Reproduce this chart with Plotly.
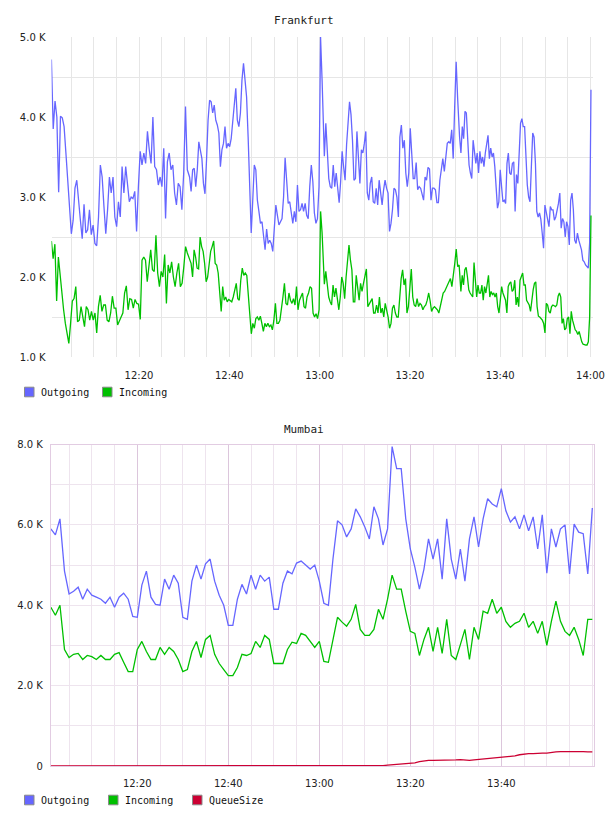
import numpy as np
import pandas as pd
import plotly.graph_objects as go

BASE = pd.Timestamp("2024-01-01 12:00:00")

# ---------------- Frankfurt (values in K, ~30 s samples) ----------------
FRA_SEGMENTS = [(0.6, 30.7), (31.2, 60.55), (61.05, 90.9), (91.0, 120.1)]  # minutes after 12:00

FRA_OUT_1 = [4.72, 3.85, 4.20, 4.00, 3.06, 4.01, 3.99, 3.88, 3.55, 3.21, 2.88, 2.54, 2.71, 3.11, 3.21, 3.00, 2.71,
             2.48, 2.91, 2.55, 2.59, 2.84, 2.53, 2.65, 2.42, 2.39, 2.75, 3.40, 3.25, 2.88, 2.54, 2.84, 3.25, 3.05,
             3.25, 2.75, 2.63, 2.94, 2.75, 3.38, 3.05, 3.38, 3.19, 2.94, 3.00, 2.98, 3.07, 2.57, 3.13, 3.57, 3.40,
             3.55, 3.42, 3.82, 3.59, 3.42, 4.00, 3.38, 3.34, 3.15, 3.25, 3.13, 3.61, 2.73, 3.44, 3.55, 3.34, 3.40,
             3.05, 2.90, 3.17, 3.13, 2.84, 3.30, 4.13, 3.34]
FRA_OUT_2 = [3.25, 3.07, 3.34, 3.36, 3.13, 3.34, 3.69, 3.57, 3.48, 3.17, 3.04, 3.46, 3.96, 4.21, 4.19, 4.05, 4.15,
             3.96, 3.90, 3.80, 3.38, 3.59, 3.67, 3.88, 3.61, 3.67, 3.63, 3.73, 3.98, 4.19, 4.36, 3.96, 3.88, 4.05,
             4.46, 4.67, 4.48, 4.25, 3.75, 3.21, 2.55, 2.96, 3.40, 3.34, 2.96, 2.82, 2.67, 2.69, 2.50, 2.34, 2.60,
             2.42, 2.46, 2.42, 2.32, 2.59, 2.90, 2.77, 2.65, 2.69, 2.73, 3.00, 3.49, 3.21, 2.92, 2.94, 2.82, 2.67,
             2.82, 2.69, 3.15, 2.82, 2.84, 2.92, 2.82, 2.92, 2.77, 2.73, 3.13, 3.40, 3.19, 2.80, 2.67, 2.73, 3.13,
             5.00, 4.46]
FRA_OUT_3 = [3.51, 3.92, 3.50, 3.23, 3.13, 3.11, 3.40, 3.13, 3.30, 3.13, 2.93, 3.19, 3.57, 3.38, 3.21, 3.65, 3.98,
             4.19, 4.03, 3.71, 3.21, 3.23, 3.82, 3.55, 3.17, 3.59, 3.55, 3.67, 3.82, 3.05, 2.96, 3.17, 3.25, 2.94,
             2.92, 3.11, 2.90, 3.21, 3.05, 2.90, 3.09, 3.21, 3.11, 3.05, 2.57, 2.67, 2.84, 3.11, 3.09, 3.00, 2.75,
             3.75, 3.90, 3.61, 3.71, 3.30, 3.13, 3.30, 3.86, 3.50, 3.23, 3.23, 3.43, 3.09, 3.13, 3.11, 3.05, 2.96,
             3.25, 3.21, 3.37, 3.35, 2.96, 3.11, 3.11, 3.09, 2.93, 2.93, 3.21, 3.34, 3.48, 3.32, 3.55, 3.67, 3.69,
             3.67, 3.84, 3.48, 4.13, 4.69, 4.23, 3.75]
FRA_OUT_4 = [3.75, 3.55, 3.88, 3.73, 4.07, 4.05, 3.71, 3.40, 3.30, 3.23, 3.71, 3.55, 3.42, 3.55, 3.30, 3.57, 3.42,
             3.50, 3.38, 3.55, 3.65, 3.77, 3.48, 3.61, 3.50, 3.55, 3.38, 3.11, 2.86, 2.94, 3.34, 3.13, 2.94, 2.96,
             2.92, 3.42, 3.55, 3.30, 3.28, 3.42, 3.44, 2.82, 3.28, 3.17, 3.59, 3.92, 3.98, 3.88, 3.88, 3.46, 3.15,
             3.00, 2.94, 3.38, 3.80, 3.75, 3.42, 2.82, 2.75, 2.80, 2.72, 2.55, 2.36, 2.90, 2.82, 2.75, 2.63, 2.88,
             2.84, 2.84, 2.71, 2.75, 2.82, 2.92, 3.05, 2.61, 2.73, 2.69, 2.50, 2.69, 2.63, 2.40, 2.96, 3.05, 2.84,
             2.46, 2.42, 2.55, 2.46, 2.40, 2.34, 2.21, 2.19, 2.15, 2.13, 2.11, 2.42, 4.34]

FRA_IN_1 = [2.45, 2.23, 2.41, 1.70, 2.25, 2.00, 1.80, 1.59, 1.42, 1.30, 1.17, 1.42, 1.70, 1.73, 1.88, 1.44, 1.46,
            1.63, 1.50, 1.38, 1.63, 1.59, 1.46, 1.57, 1.46, 1.55, 1.30, 1.63, 1.77, 1.57, 1.65, 1.65, 1.46, 1.44,
            1.55, 1.76, 1.61, 1.61, 1.40, 1.46, 1.50, 1.55, 1.80, 1.89, 1.59, 1.73, 1.72, 1.61, 1.72, 1.67, 1.66,
            1.47, 2.21, 2.25, 2.21, 1.94, 2.17, 2.34, 2.09, 2.07, 2.52, 2.05, 1.88, 2.07, 2.00, 2.28, 1.67, 2.15,
            2.05, 2.19, 2.00, 1.88, 2.05, 2.17, 1.88, 1.92, 2.13, 2.38, 2.30]
FRA_IN_2 = [2.21, 2.17, 2.00, 2.34, 2.25, 2.11, 2.10, 2.50, 2.38, 2.32, 2.17, 1.94, 2.00, 2.21, 2.32, 2.38, 2.45,
            2.17, 2.15, 2.05, 1.75, 1.57, 1.88, 1.71, 1.75, 1.69, 1.72, 1.71, 1.69, 1.75, 1.82, 1.92, 1.73, 1.71,
            1.96, 2.11, 2.02, 2.05, 2.02, 1.75, 1.50, 1.29, 1.42, 1.36, 1.48, 1.50, 1.46, 1.51, 1.42, 1.32, 1.42,
            1.38, 1.42, 1.38, 1.40, 1.34, 1.46, 1.67, 1.42, 1.42, 1.46, 1.59, 1.75, 1.92, 1.67, 1.65, 1.80, 1.71,
            1.67, 1.73, 1.65, 1.88, 1.59, 1.71, 1.75, 1.80, 1.63, 1.61, 1.75, 1.80, 1.88, 1.86, 1.55, 1.50, 1.54,
            1.48, 1.59, 2.82, 2.55]
FRA_IN_3 = [1.91, 2.07, 1.92, 1.75, 1.69, 1.65, 1.90, 1.75, 1.86, 1.71, 1.59, 1.75, 2.00, 1.92, 1.73, 2.00, 2.21,
            2.40, 2.21, 2.09, 1.69, 1.69, 2.02, 1.82, 1.71, 1.92, 1.82, 1.92, 2.00, 2.10, 1.63, 1.67, 1.71, 1.73,
            1.55, 1.55, 1.65, 1.55, 1.75, 1.55, 1.61, 1.50, 1.67, 1.59, 1.50, 1.36, 1.42, 1.61, 1.65, 1.55, 1.50,
            1.50, 1.75, 1.98, 2.09, 1.90, 1.98, 1.55, 1.63, 1.82, 2.10, 1.75, 1.65, 1.63, 1.73, 1.63, 1.67, 1.65,
            1.59, 1.63, 1.65, 1.71, 1.80, 1.70, 1.57, 1.61, 1.63, 1.61, 1.59, 1.55, 1.65, 1.75, 1.80, 1.82, 1.86,
            1.90, 1.92, 1.98, 1.88, 2.00, 2.17, 2.35, 2.13, 2.15]
FRA_IN_4 = [2.02, 1.82, 2.02, 1.90, 2.09, 2.12, 2.00, 1.84, 1.80, 1.78, 1.75, 2.18, 2.00, 1.75, 1.90, 1.80, 1.80,
            1.90, 1.71, 1.88, 1.80, 1.92, 2.02, 1.75, 1.82, 1.78, 1.80, 1.75, 1.80, 1.63, 1.55, 1.71, 1.88, 1.80,
            1.75, 1.71, 1.55, 1.88, 1.92, 1.94, 1.82, 1.84, 1.96, 1.65, 1.75, 1.63, 1.96, 2.02, 2.05, 1.90, 1.90,
            1.71, 1.67, 1.65, 1.57, 1.73, 1.84, 1.92, 1.94, 1.63, 1.51, 1.50, 1.48, 1.46, 1.42, 1.30, 1.67, 1.65,
            1.57, 1.55, 1.63, 1.65, 1.64, 1.63, 1.65, 1.76, 1.80, 1.75, 1.42, 1.48, 1.34, 1.36, 1.48, 1.50, 1.29,
            1.57, 1.46, 1.38, 1.34, 1.32, 1.28, 1.32, 1.25, 1.19, 1.16, 1.15, 1.15, 1.15, 1.19, 1.50, 2.77]

# ---------------- Mumbai (values in K, 1-min samples 12:01..14:00) ----------------
MUM_MINUTES = list(range(1, 121))
MUM_OUT = [5.90, 5.75, 6.15, 4.85, 4.28, 4.35, 4.45, 4.15, 4.40, 4.25,
           4.20, 4.15, 4.05, 4.20, 3.95, 4.20, 4.30, 4.15, 3.72, 3.70,
           4.50, 4.85, 4.20, 4.02, 4.00, 4.65, 4.40, 4.75, 4.55, 3.70,
           3.65, 4.60, 5.00, 4.65, 5.03, 5.15, 4.60, 4.25, 4.00, 3.50,
           3.50, 4.15, 4.52, 4.28, 4.75, 4.40, 4.75, 4.60, 4.70, 3.90,
           3.90, 4.55, 4.85, 4.78, 5.05, 5.10, 5.00, 4.90, 5.00, 4.60,
           4.05, 4.00, 5.15, 6.10, 6.00, 5.70, 5.90, 6.40, 6.20, 5.95,
           5.65, 6.45, 6.15, 5.50, 5.90, 7.95, 7.40, 7.40, 6.15, 5.40,
           4.95, 4.40, 4.90, 5.65, 5.15, 5.65, 4.65, 6.15, 5.15, 4.65,
           5.40, 4.60, 5.65, 6.20, 5.45, 6.15, 6.65, 6.52, 6.45, 6.90,
           6.35, 6.07, 6.20, 5.90, 6.25, 5.85, 6.20, 5.40, 6.25, 4.80,
           5.90, 5.45, 5.90, 6.00, 4.78, 6.02, 5.82, 5.78, 4.78, 6.42]
MUM_IN = [3.95, 3.75, 4.00, 2.90, 2.70, 2.78, 2.80, 2.65, 2.75, 2.72,
          2.65, 2.75, 2.65, 2.65, 2.78, 2.82, 2.58, 2.35, 2.35, 2.90,
          3.10, 2.85, 2.65, 2.65, 2.95, 2.78, 2.95, 2.85, 2.65, 2.35,
          2.40, 2.85, 3.10, 2.70, 3.15, 3.25, 2.78, 2.55, 2.40, 2.25,
          2.25, 2.45, 2.78, 2.75, 2.80, 3.10, 2.95, 3.25, 3.15, 2.55,
          2.55, 2.55, 2.90, 3.08, 3.05, 3.30, 3.25, 3.10, 2.95, 3.10,
          2.60, 2.58, 3.15, 3.70, 3.58, 3.48, 3.65, 4.02, 3.40, 3.25,
          3.25, 3.40, 3.90, 3.65, 4.15, 4.75, 4.40, 4.40, 3.85, 3.35,
          3.30, 2.75, 3.15, 3.45, 2.85, 3.45, 2.80, 3.65, 2.75, 2.65,
          3.02, 3.40, 2.65, 3.45, 3.15, 3.85, 3.80, 4.15, 3.80, 3.95,
          3.60, 3.45, 3.55, 3.60, 3.80, 3.45, 3.60, 3.30, 3.60, 3.00,
          3.60, 4.10, 3.60, 3.35, 3.25, 3.45, 3.15, 2.75, 3.65, 3.65]
MUM_QUEUE = [0.0] * 72 + [0.005, 0.01, 0.02, 0.03, 0.03, 0.04, 0.05, 0.06, 0.08, 0.11,
                          0.13, 0.14, 0.14, 0.14, 0.14, 0.15, 0.15, 0.15, 0.16, 0.15,
                          0.14, 0.15, 0.16, 0.18, 0.19, 0.20, 0.21, 0.21, 0.22, 0.23,
                          0.25, 0.28, 0.30, 0.31, 0.31, 0.32, 0.32, 0.32, 0.34, 0.35,
                          0.36, 0.36, 0.37, 0.37, 0.37, 0.36, 0.35, 0.35]

FRA_YTICKS = [1, 2, 3, 4, 5]
MUM_YTICKS = [0, 2, 4, 6, 8]
XTICK_MIN = [20, 40, 60, 80, 100, 120]

FRA_SERIES = ["Outgoing", "Incoming"]
MUM_SERIES = ["Outgoing", "Incoming", "QueueSize"]

C_OUT = "#6666ff"
C_IN = "#00c000"
C_Q = "#cc0033"
COLORS = {"Outgoing": C_OUT, "Incoming": C_IN, "QueueSize": C_Q}


def ts(minutes):
    return list(BASE + pd.to_timedelta(np.asarray(minutes, dtype=float), unit="m"))


def seg_times(segments, parts):
    out = []
    for (a, b), vals in zip(segments, parts):
        out += ts(np.linspace(a, b, len(vals)))
    return out


fra_out_t = seg_times(FRA_SEGMENTS, [FRA_OUT_1, FRA_OUT_2, FRA_OUT_3, FRA_OUT_4])
fra_out_v = FRA_OUT_1 + FRA_OUT_2 + FRA_OUT_3 + FRA_OUT_4
fra_in_t = seg_times(FRA_SEGMENTS, [FRA_IN_1, FRA_IN_2, FRA_IN_3, FRA_IN_4])
fra_in_v = FRA_IN_1 + FRA_IN_2 + FRA_IN_3 + FRA_IN_4
mum_t = ts(MUM_MINUTES)

W, H = 608, 816
fig = go.Figure()
lw = 1.3

fig.add_trace(go.Scatter(x=fra_out_t, y=fra_out_v, mode="lines", name="Outgoing", line=dict(color=C_OUT, width=lw),
                         xaxis="x", yaxis="y", showlegend=False))
fig.add_trace(go.Scatter(x=fra_in_t, y=fra_in_v, mode="lines", name="Incoming", line=dict(color=C_IN, width=lw),
                         xaxis="x", yaxis="y", showlegend=False))
fig.add_trace(go.Scatter(x=mum_t, y=MUM_OUT, mode="lines", name="Outgoing", line=dict(color=C_OUT, width=lw),
                         xaxis="x2", yaxis="y2", showlegend=False))
fig.add_trace(go.Scatter(x=mum_t, y=MUM_IN, mode="lines", name="Incoming", line=dict(color=C_IN, width=lw),
                         xaxis="x2", yaxis="y2", showlegend=False))
fig.add_trace(go.Scatter(x=mum_t, y=MUM_QUEUE, mode="lines", name="QueueSize", line=dict(color=C_Q, width=lw),
                         xaxis="x2", yaxis="y2", showlegend=False))

tickfont = dict(family="DejaVu Sans", size=10, color="#222")
grid_f = "#e6e6e6"
grid_m = "#eee4ee"
grid_m_major = "#dcc6dc"
border_m = "#e2cce2"
legfont = dict(family="DejaVu Sans Mono", size=10, color="#111")


def xr(a, b):
    return [BASE + pd.Timedelta(minutes=a), BASE + pd.Timedelta(minutes=b)]


# Compact legend rows (swatch + label), laid out like the original
shapes, annotations = [], []
legend_rows = [(FRA_SERIES, 392, 78), (MUM_SERIES, 800, 84)]
for names, yc, step in legend_rows:
    for i, nm in enumerate(names):
        x0 = 24.5 + i * step
        shapes.append(dict(type="rect", xref="paper", yref="paper",
                           x0=x0 / W, x1=(x0 + 9.5) / W, y0=1 - (yc + 4.8) / H, y1=1 - (yc - 4.8) / H,
                           fillcolor=COLORS[nm], line=dict(color="#8a8a8a", width=1)))
        annotations.append(dict(text=nm, x=(x0 + 14.5) / W, y=1 - yc / H, xref="paper", yref="paper",
                                showarrow=False, xanchor="left", yanchor="middle", font=legfont))

annotations += [
    dict(text="Frankfurt", x=0.5, y=1 - 20 / H, xref="paper", yref="paper", showarrow=False,
         font=dict(family="DejaVu Sans Mono", size=11, color="#222"), xanchor="center", yanchor="middle"),
    dict(text="Mumbai", x=0.5, y=1 - 429 / H, xref="paper", yref="paper", showarrow=False,
         font=dict(family="DejaVu Sans Mono", size=11, color="#222"), xanchor="center", yanchor="middle"),
]

fig.update_layout(
    width=W, height=H, template="none", showlegend=False,
    margin=dict(l=0, r=0, t=0, b=0, autoexpand=False),
    paper_bgcolor="white", plot_bgcolor="white",
    xaxis=dict(domain=[51.5 / W, 593 / W], anchor="y", type="date", range=xr(0.62, 120.55),
               tickvals=ts(XTICK_MIN), tickformat="%H:%M", tickfont=tickfont,
               showgrid=True, gridcolor=grid_f, gridwidth=1, ticks="", showline=False, zeroline=False,
               minor=dict(showgrid=True, gridcolor=grid_f, gridwidth=1, dtick=300000, tick0=BASE, ticks=""),
               automargin=False, ticklabelstandoff=11),
    yaxis=dict(domain=[1 - 357 / H, 1 - 37 / H], anchor="x", range=[1, 5],
               tickvals=FRA_YTICKS, ticktext=[f"{v:.1f} K" for v in FRA_YTICKS], tickfont=tickfont,
               showgrid=False, ticks="", showline=False, zeroline=False,
               minor=dict(showgrid=True, gridcolor=grid_f, tickvals=[1.5, 2.5, 3.5, 4.5], ticks=""),
               automargin=False, ticklabelstandoff=5),
    xaxis2=dict(domain=[50.8 / W, 593.5 / W], anchor="y2", type="date", range=xr(0.99, 120.26),
                tickvals=ts(XTICK_MIN[:-1]), tickformat="%H:%M", tickfont=tickfont,
                showgrid=True, gridcolor=grid_m_major, gridwidth=1, ticks="",
                showline=True, mirror=True, linecolor=border_m, linewidth=1, zeroline=False,
                minor=dict(showgrid=True, gridcolor=grid_m, gridwidth=1, dtick=300000, tick0=BASE, ticks=""),
                automargin=False, ticklabelstandoff=8),
    yaxis2=dict(domain=[1 - 766 / H, 1 - 444.5 / H], anchor="x2", range=[0, 8],
                tickvals=MUM_YTICKS, ticktext=["0"] + [f"{v:.1f} K" for v in MUM_YTICKS[1:]], tickfont=tickfont,
                showgrid=True, gridcolor=grid_m, ticks="",
                showline=True, mirror=True, linecolor=border_m, linewidth=1, zeroline=False,
                minor=dict(showgrid=True, gridcolor=grid_m, tickvals=[1, 3, 5, 7], ticks=""),
                automargin=False, ticklabelstandoff=5),
    shapes=shapes,
    annotations=annotations,
    hovermode=False,
)

fig.write_html("out.html")
